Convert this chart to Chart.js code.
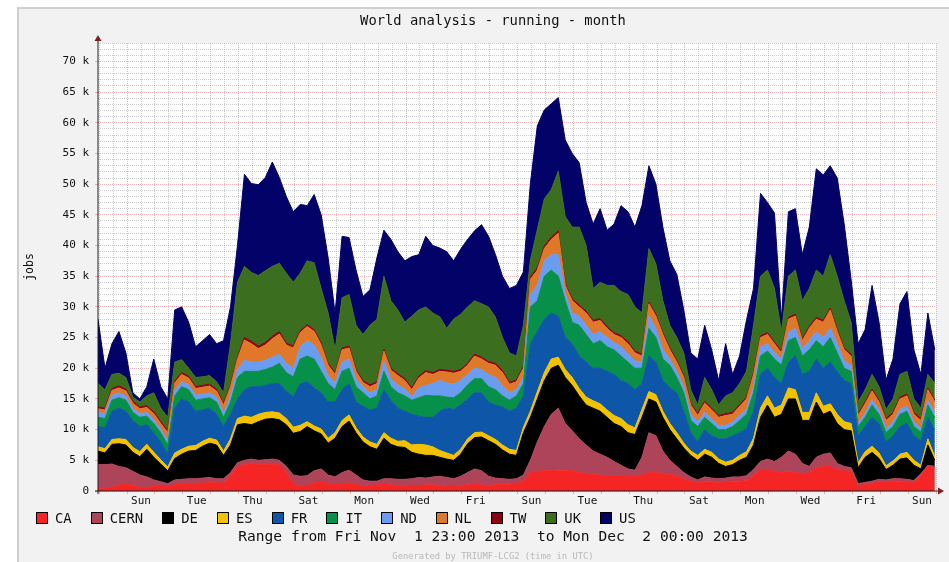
<!DOCTYPE html>
<html>
<head>
<meta charset="utf-8">
<script src="https://cdn.jsdelivr.net/npm/chart.js@4.4.0/dist/chart.umd.min.js"></script>
<style>
  body { margin: 0; background: #ffffff; overflow: hidden; font-family: "DejaVu Sans Mono", monospace; color: #111; }
  #panel { position: absolute; left: 17px; top: 7px; width: 940px; height: 570px; background: #f2f2f2;
           border-left: 2px solid #cfcfcf; border-top: 2px solid #cfcfcf; }
  #chartWorld { position: absolute; left: 0; top: 0; }
  .line { position: absolute; left: 193px; width: 600px; text-align: center; white-space: pre; }
  #title { top: 12px; font-size: 13.8px; line-height: 16px; }
  #range { top: 527px; font-size: 14.6px; line-height: 18px; }
  #generated { top: 551px; font-size: 8.8px; line-height: 10px; color: #b8b8b8; }
  #legend { position: absolute; left: 36px; top: 510px; height: 16px; display: flex; align-items: center;
            font-size: 13.9px; white-space: pre; }
  #legend .item { display: flex; align-items: center; margin-right: 19px; }
  #legend .box { width: 10px; height: 10px; border: 1px solid #000; }
  #legend .text { margin-left: 7px; line-height: 16px; }
</style>
</head>
<body>
<div id="panel"></div>
<canvas id="chartWorld" width="949" height="562"></canvas>
<div id="title" class="line">World analysis - running - month</div>
<div id="legend"></div>
<div id="range" class="line">Range from Fri Nov  1 23:00 2013  to Mon Dec  2 00:00 2013</div>
<div id="generated" class="line">Generated by TRIUMF-LCG2 (time in UTC)</div>

<script>
// one sample every 6 hours, starting Fri Nov 1 23:00 UTC, values in thousands of jobs
const START_MS = Date.UTC(2013, 10, 1, 23);
const SAMPLE_HOURS = 6;
const HOURS_TOTAL = 721;
const Y_MAX = 73;
const DAY_NAMES = ['Sun', 'Mon', 'Tue', 'Wed', 'Thu', 'Fri', 'Sat'];

const sites = ['CA', 'CERN', 'DE', 'ES', 'FR', 'IT', 'ND', 'NL', 'TW', 'UK', 'US'];

const CA = [
  0.4, 0.5, 0.6, 1.0, 1.2, 0.9, 0.6, 0.5, 0.8, 0.9,
  0.7, 1.0, 1.1, 1.2, 1.2, 1.3, 1.4, 1.3, 1.3, 2.5,
  4.0, 4.3, 4.5, 4.3, 4.3, 4.4, 4.2, 3.0, 1.2, 0.8,
  0.9, 1.3, 1.6, 1.2, 1.0, 1.2, 1.3, 1.1, 0.8, 0.9,
  1.0, 1.2, 1.0, 0.9, 0.8, 0.9, 0.9, 1.0, 1.0, 0.9,
  0.8, 0.8, 0.9, 1.0, 1.1, 1.0, 0.9, 1.0, 1.1, 1.0,
  1.3, 1.5, 3.0, 3.2, 3.3, 3.3, 3.4, 3.4, 3.3, 3.0,
  2.8, 2.7, 2.6, 2.5, 2.5, 2.5, 2.4, 2.3, 2.6, 3.0,
  3.0, 2.8, 2.7, 2.5, 2.0, 1.6, 1.3, 1.5, 1.5, 1.4,
  1.5, 1.6, 1.6, 1.7, 2.5, 3.5, 3.5, 3.2, 3.0, 3.2,
  3.0, 2.7, 3.0, 3.7, 4.0, 4.0, 3.5, 3.3, 3.2, 0.8,
  1.0, 1.2, 1.5, 1.5, 1.6, 1.6, 1.5, 1.3, 2.5, 4.0,
  3.8
];
const CERN = [
  3.9, 3.8, 3.8, 3.0, 2.6, 2.3, 2.0, 1.8, 1.0, 0.6,
  0.5, 0.8, 0.8, 0.8, 0.8, 0.8, 0.8, 0.7, 0.7, 0.5,
  0.6, 0.7, 0.7, 0.7, 0.8, 0.8, 0.8, 1.0, 1.4, 1.6,
  1.6, 2.0, 2.0, 1.4, 1.3, 1.8, 2.1, 1.5, 1.0, 0.7,
  0.6, 0.8, 1.0, 1.0, 1.1, 1.1, 1.3, 1.1, 1.3, 1.5,
  1.4, 1.2, 1.5, 2.0, 2.5, 2.3, 1.5, 1.1, 0.9, 0.9,
  0.7, 1.1, 2.0, 4.8, 7.2, 9.2, 10.1, 7.6, 6.5, 5.5,
  4.7, 3.8, 3.4, 3.0, 2.3, 1.7, 1.2, 1.1, 2.9, 6.5,
  6.0, 3.7, 2.3, 1.5, 1.0, 0.7, 0.5, 0.8, 0.6, 0.6,
  0.6, 0.7, 0.7, 0.8, 1.0, 1.3, 1.7, 1.6, 2.5, 3.3,
  3.0, 1.8, 1.0, 1.8, 2.0, 2.2, 1.0, 0.7, 0.6, 0.4,
  0.4, 0.4, 0.4, 0.3, 0.4, 0.4, 0.4, 0.4, 0.3, 0.2,
  0.2
];
const DE = [
  2.2, 1.9, 3.2, 3.7, 3.7, 3.1, 3.0, 4.5, 3.7, 2.9,
  2.1, 3.5, 4.1, 4.5, 4.6, 5.2, 5.6, 5.5, 3.8, 4.5,
  6.2, 6.0, 5.6, 6.3, 6.6, 6.6, 6.6, 6.8, 6.8, 7.3,
  8.0, 6.5, 5.7, 5.2, 6.3, 7.5, 8.0, 6.9, 6.2, 5.6,
  5.2, 6.6, 5.6, 5.3, 5.2, 4.3, 3.8, 3.7, 3.5, 3.1,
  3.0, 3.0, 3.6, 4.7, 5.1, 5.5, 5.8, 5.5, 4.7, 4.1,
  3.8, 6.9, 7.0, 7.0, 7.5, 7.5, 7.0, 7.5, 7.4, 7.0,
  6.5, 7.0, 7.0, 6.5, 6.2, 6.3, 5.9, 5.8, 6.5, 5.5,
  5.5, 5.5, 5.0, 4.5, 4.0, 3.5, 3.2, 3.7, 3.4, 2.5,
  1.9, 2.0, 2.7, 3.0, 4.0, 7.2, 8.8, 7.2, 7.0, 8.5,
  9.0, 7.0, 7.5, 9.0, 6.5, 6.8, 6.5, 6.0, 6.0, 2.6,
  4.1, 4.7, 3.4, 1.7, 2.2, 3.2, 3.5, 2.5, 0.8, 3.3,
  1.0
];
const ES = [
  0.7, 0.7, 0.8, 0.8, 0.9, 0.8, 0.8, 0.8, 0.8, 0.7,
  0.6, 0.9, 0.8, 0.8, 0.8, 0.8, 0.8, 0.8, 0.7, 1.0,
  1.0, 1.2, 1.2, 1.2, 1.1, 1.1, 1.1, 1.0, 1.0, 1.0,
  0.8, 0.8, 0.8, 0.8, 0.9, 1.0, 1.0, 0.8, 0.8, 0.8,
  0.8, 0.9, 1.0, 0.9, 1.1, 1.2, 1.6, 1.7, 1.4, 1.1,
  1.0, 0.8, 0.8, 0.8, 0.8, 0.8, 0.8, 0.8, 0.8, 0.8,
  0.8, 0.9, 1.0, 1.2, 1.3, 1.5, 1.3, 1.3, 1.3, 1.2,
  1.3, 1.2, 1.2, 1.2, 1.3, 1.3, 1.3, 1.1, 1.3, 1.2,
  1.2, 1.0, 1.0, 1.0, 0.8, 0.7, 0.8, 0.8, 0.8, 0.7,
  0.7, 0.7, 0.8, 0.9, 1.1, 1.5, 1.5, 1.5, 1.5, 1.8,
  1.5, 1.3, 1.3, 1.5, 1.3, 1.2, 1.5, 1.3, 1.2, 0.8,
  0.9, 1.0, 0.9, 0.6, 0.7, 0.8, 0.9, 0.8, 0.6, 1.0,
  0.6
];
const FR = [
  3.3, 3.4, 4.6, 5.0, 4.6, 4.4, 4.1, 3.2, 3.2, 2.9,
  2.1, 7.3, 8.2, 7.2, 5.6, 5.1, 4.9, 4.2, 4.0, 4.0,
  3.2, 4.3, 5.0, 4.5, 4.4, 4.6, 4.8, 4.5, 4.9, 6.8,
  6.5, 6.2, 5.9, 5.9, 5.0, 5.0, 5.1, 4.2, 5.0, 5.2,
  5.9, 7.0, 6.2, 5.4, 4.8, 5.0, 4.6, 4.5, 4.8, 6.4,
  7.3, 7.5, 7.2, 6.5, 6.5, 6.4, 5.5, 5.6, 6.2, 6.2,
  6.9, 5.1, 11.0, 9.8, 8.7, 7.5, 6.7, 5.2, 5.5, 5.3,
  5.7, 5.3, 5.8, 6.3, 6.7, 6.2, 6.7, 6.2, 4.2, 5.8,
  5.3, 5.0, 5.8, 6.5, 5.2, 3.0, 2.2, 3.2, 2.7, 3.3,
  3.8, 4.0, 3.7, 3.8, 4.4, 5.5, 4.5, 5.0, 3.5, 4.2,
  5.5, 6.2, 6.7, 5.5, 6.2, 6.8, 7.0, 6.7, 6.5, 4.4,
  4.1, 4.7, 4.8, 3.9, 4.1, 4.5, 4.7, 4.0, 4.0, 3.5,
  4.4
];
const IT = [
  1.5, 1.5, 1.8, 1.7, 1.8, 1.3, 1.5, 1.4, 1.5, 1.5,
  1.5, 2.0, 2.0, 2.0, 1.8, 1.8, 1.7, 2.0, 1.5, 2.0,
  3.5, 3.0, 2.5, 2.5, 2.6, 2.7, 3.3, 3.0, 3.3, 4.0,
  4.2, 4.7, 3.5, 3.0, 2.0, 3.0, 2.5, 2.5, 2.2, 1.8,
  2.0, 3.0, 2.2, 2.5, 2.5, 2.3, 3.0, 3.6, 3.5, 2.5,
  1.8, 1.9, 2.0, 2.3, 2.3, 2.3, 2.5, 2.5, 1.8, 1.8,
  2.0, 2.0, 6.0, 5.0, 7.0, 7.0, 6.5, 6.0, 3.5, 5.0,
  4.5, 4.0, 4.5, 4.0, 4.0, 4.0, 3.5, 3.5, 2.5, 4.5,
  4.0, 3.5, 3.7, 2.5, 3.0, 2.0, 2.5, 2.0, 2.0, 1.5,
  1.5, 1.5, 2.0, 2.3, 3.0, 3.0, 2.8, 3.0, 3.0, 3.5,
  3.0, 3.0, 3.5, 3.0, 3.5, 4.0, 3.0, 2.0, 2.0, 1.5,
  1.5, 2.0, 1.5, 1.5, 1.5, 2.0, 2.0, 1.5, 1.4, 2.0,
  2.0
];
const ND = [
  0.8, 0.8, 0.8, 0.8, 0.7, 0.7, 0.6, 0.6, 0.6, 0.6,
  0.7, 0.9, 0.8, 0.8, 0.8, 0.8, 0.8, 0.8, 0.8, 1.0,
  1.3, 1.8, 1.5, 1.5, 1.5, 1.6, 1.5, 1.5, 1.4, 2.0,
  2.5, 2.3, 2.2, 1.3, 1.0, 1.5, 1.5, 1.3, 1.0, 1.0,
  1.0, 1.7, 1.2, 1.3, 1.1, 0.6, 1.6, 1.6, 2.0, 2.5,
  2.3, 2.2, 2.0, 1.7, 1.7, 1.5, 2.0, 2.0, 1.7, 1.2,
  1.0, 1.0, 2.0, 2.5, 2.5, 2.5, 3.5, 1.2, 1.5, 1.5,
  1.5, 1.5, 1.5, 1.5, 1.2, 1.5, 1.3, 1.2, 1.0, 2.0,
  1.5, 1.5, 1.0, 1.0, 1.0, 1.0, 0.8, 0.8, 0.8, 0.7,
  0.7, 0.7, 0.8, 0.8, 1.0, 1.5, 1.2, 1.0, 1.0, 1.3,
  1.5, 1.2, 1.5, 1.5, 1.5, 1.5, 1.5, 1.2, 1.0, 0.5,
  0.7, 0.8, 0.8, 0.7, 0.7, 0.8, 0.8, 0.7, 0.6, 0.8,
  0.8
];
const NL = [
  0.6, 0.6, 0.8, 0.8, 0.8, 0.8, 0.8, 0.8, 1.0, 0.9,
  1.3, 1.2, 1.2, 1.1, 1.1, 1.1, 1.1, 1.0, 1.2, 1.5,
  1.7, 3.3, 3.0, 2.2, 2.5, 3.0, 3.3, 3.0, 3.3, 2.3,
  2.3, 2.2, 2.1, 1.7, 1.5, 2.0, 1.8, 1.2, 0.7, 1.0,
  1.0, 1.6, 1.5, 1.5, 1.4, 1.1, 1.6, 2.1, 1.5, 1.5,
  1.8, 1.8, 1.5, 1.5, 2.0, 1.7, 1.8, 2.0, 2.1, 1.4,
  1.3, 1.5, 2.5, 2.5, 2.0, 2.5, 3.5, 1.3, 2.0, 1.5,
  2.0, 2.0, 1.8, 1.5, 1.3, 1.5, 1.7, 1.3, 1.0, 2.0,
  2.0, 2.5, 1.5, 1.5, 1.5, 1.5, 1.0, 1.5, 1.4, 1.3,
  1.6, 1.3, 1.5, 1.7, 2.0, 1.5, 1.5, 1.5, 1.0, 2.2,
  2.0, 1.3, 2.0, 2.0, 2.5, 3.0, 2.0, 1.8, 1.5, 1.3,
  1.5, 1.5, 1.2, 1.3, 1.3, 1.7, 1.7, 1.3, 1.3, 1.7,
  1.7
];
const TW = [
  0.3, 0.3, 0.3, 0.3, 0.3, 0.3, 0.3, 0.3, 0.3, 0.3,
  0.3, 0.3, 0.3, 0.3, 0.3, 0.3, 0.3, 0.3, 0.3, 0.3,
  0.3, 0.4, 0.4, 0.4, 0.4, 0.4, 0.4, 0.3, 0.3, 0.3,
  0.3, 0.3, 0.3, 0.3, 0.3, 0.3, 0.3, 0.3, 0.3, 0.3,
  0.3, 0.3, 0.3, 0.3, 0.3, 0.3, 0.3, 0.3, 0.3, 0.3,
  0.3, 0.3, 0.3, 0.3, 0.3, 0.3, 0.3, 0.3, 0.3, 0.3,
  0.3, 0.3, 0.4, 0.4, 0.4, 0.4, 0.4, 0.3, 0.3, 0.3,
  0.3, 0.3, 0.3, 0.3, 0.3, 0.3, 0.3, 0.3, 0.3, 0.3,
  0.3, 0.3, 0.3, 0.3, 0.3, 0.3, 0.3, 0.3, 0.3, 0.3,
  0.3, 0.3, 0.3, 0.3, 0.3, 0.3, 0.3, 0.3, 0.3, 0.3,
  0.3, 0.3, 0.3, 0.3, 0.3, 0.3, 0.3, 0.3, 0.3, 0.3,
  0.3, 0.3, 0.3, 0.3, 0.3, 0.3, 0.3, 0.3, 0.3, 0.3,
  0.3
];
const UK = [
  3.8, 3.0, 2.3, 2.1, 1.9, 0.7, 0.8, 1.6, 3.1, 2.2,
  2.2, 3.1, 2.1, 1.3, 1.5, 1.4, 1.4, 1.2, 1.7, 6.7,
  12.2, 11.6, 11.2, 11.5, 11.7, 11.4, 11.1, 11.4, 10.4, 9.4,
  10.4, 10.9, 8.9, 8.2, 3.7, 8.2, 8.4, 7.2, 7.5, 9.7,
  10.2, 11.9, 11.0, 10.4, 9.2, 11.7, 10.8, 10.4, 9.7, 8.6,
  6.8, 8.5, 9.0, 9.2, 8.7, 8.7, 8.9, 7.5, 5.4, 4.8,
  3.9, 6.7, 2.7, 6.2, 7.7, 7.7, 9.7, 10.9, 11.7, 12.7,
  10.7, 5.2, 5.9, 6.7, 7.7, 7.2, 7.7, 7.2, 6.7, 8.7,
  8.2, 5.2, 3.7, 3.7, 3.7, 2.2, 1.4, 3.9, 3.0, 1.7,
  2.9, 3.2, 3.4, 4.2, 7.7, 9.7, 10.2, 8.7, 3.2, 6.7,
  7.2, 6.2, 6.2, 7.7, 7.2, 8.7, 8.7, 7.7, 5.2, 1.9,
  2.0, 2.4, 2.2, 1.5, 2.2, 3.7, 3.7, 2.2, 1.7, 2.2,
  2.7
];
const US = [
  10.5, 3.5, 5.0, 6.8, 4.0, 0.7, 0.5, 1.5, 5.5, 3.5,
  3.0, 8.5, 8.6, 7.5, 5.0, 5.9, 6.7, 6.2, 8.5, 6.0,
  6.0, 15.0, 14.5, 14.8, 15.2, 17.0, 14.0, 12.5, 11.5, 11.2,
  9.0, 11.1, 12.0, 9.0, 6.0, 10.0, 9.3, 9.0, 6.2, 5.8,
  10.0, 7.5, 10.0, 9.5, 10.0, 9.7, 9.0, 11.5, 11.0, 11.2,
  12.5, 9.5, 10.6, 11.0, 11.4, 12.9, 11.5, 10.2, 10.0, 10.5,
  11.5, 8.7, 12.5, 16.9, 14.5, 14.0, 12.0, 12.5, 12.0, 10.5,
  7.0, 10.5, 12.0, 9.0, 10.0, 14.0, 13.5, 13.0, 17.5, 13.5,
  13.0, 12.0, 10.5, 10.3, 7.0, 6.0, 7.5, 8.5, 6.5, 4.0,
  8.5, 3.0, 4.5, 8.4, 6.0, 13.5, 11.0, 12.3, 2.0, 10.5,
  10.0, 7.5, 10.0, 16.5, 16.5, 14.5, 16.0, 12.5, 6.9, 9.5,
  9.8, 14.5, 10.5, 4.8, 6.5, 11.5, 13.0, 8.0, 5.5, 10.0,
  5.5
];

const siteValues = [CA, CERN, DE, ES, FR, IT, ND, NL, TW, UK, US];

const SITE_COLORS = [
  '#f52525', '#ae4459', '#000000', '#f2c200', '#0d56a8', '#06904a',
  '#6a9cf0', '#e0782a', '#8e0010', '#3c6e20', '#020268'
];

// rrdtool look, a bit lighter than the raw defaults
const GRID_MINOR = 'rgba(143,143,143,0.45)';
const GRID_MAJOR = 'rgba(222,79,79,0.42)';
const FONT_MONO = '"DejaVu Sans Mono", monospace';

function toPoints(values) {
  return values.map((v, i) => ({ x: i * SAMPLE_HOURS, y: v }));
}

function dayName(hour) {
  return DAY_NAMES[new Date(START_MS + hour * 3600000).getUTCDay()];
}

// ************************************
// PLOT BACKGROUND + AXES WITH ARROWS
// ************************************

const rrdFrame = {
  id: 'rrdFrame',
  beforeDraw(chart) {
    const { ctx, chartArea: a } = chart;
    ctx.save();
    ctx.fillStyle = '#ffffff';
    ctx.fillRect(a.left, a.top, a.right - a.left, a.bottom - a.top);
    ctx.restore();
  },
  afterDraw(chart) {
    const { ctx, chartArea: a } = chart;
    ctx.save();
    ctx.strokeStyle = '#1f1f1f';
    ctx.lineWidth = 1;
    ctx.beginPath();
    ctx.moveTo(a.left, a.bottom + 3);
    ctx.lineTo(a.left, a.top - 4);
    ctx.moveTo(a.left - 3, a.bottom);
    ctx.lineTo(a.right + 3, a.bottom);
    ctx.stroke();
    ctx.fillStyle = '#801f1f';
    ctx.beginPath();
    ctx.moveTo(a.left - 3.5, a.top - 2);
    ctx.lineTo(a.left + 3.5, a.top - 2);
    ctx.lineTo(a.left, a.top - 8);
    ctx.closePath();
    ctx.fill();
    ctx.beginPath();
    ctx.moveTo(a.right + 2, a.bottom - 3.5);
    ctx.lineTo(a.right + 2, a.bottom + 3.5);
    ctx.lineTo(a.right + 8, a.bottom);
    ctx.closePath();
    ctx.fill();
    ctx.restore();
  }
};

// ************************************
// DATASETS
// ************************************

const dataWorld = {
  datasets: sites.map((site, i) => ({
    label: site,
    data: toPoints(siteValues[i]),
    backgroundColor: SITE_COLORS[i],
    borderColor: SITE_COLORS[i],
    borderWidth: 1,
    pointRadius: 0,
    tension: 0,
    fill: i === 0 ? 'origin' : '-1'
  }))
};

// ************************************
// CHART
// ************************************

const chartWorld = new Chart(document.getElementById('chartWorld'), {
  type: 'line',
  data: dataWorld,
  plugins: [rrdFrame],
  options: {
    responsive: false,
    animation: false,
    events: [],
    layout: { padding: { left: 18, right: 13, top: 43, bottom: 51 } },
    plugins: {
      legend: { display: false },
      title: { display: false },
      tooltip: { enabled: false }
    },
    scales: {
      x: {
        type: 'linear',
        min: 0,
        max: HOURS_TOTAL,
        afterFit: (scale) => { scale.height = 20; },
        afterBuildTicks: (scale) => {
          const ticks = [];
          for (let h = 1; h <= HOURS_TOTAL; h += 12) ticks.push({ value: h });
          scale.ticks = ticks;
        },
        ticks: {
          autoSkip: false,
          maxRotation: 0,
          minRotation: 0,
          padding: 1,
          color: '#111',
          font: { family: FONT_MONO, size: 11 },
          callback: (value) => ((value - 37) % 48 === 0 ? dayName(value) : '')
        },
        grid: {
          color: (ctx) => (ctx.tick && (ctx.tick.value - 1) % 24 === 0 ? GRID_MAJOR : GRID_MINOR),
          tickColor: (ctx) => (ctx.tick && (ctx.tick.value - 1) % 24 === 0 ? GRID_MAJOR : 'rgba(0,0,0,0)'),
          tickLength: 3
        },
        border: { display: false, dash: [1, 1] }
      },
      y: {
        stacked: true,
        min: 0,
        max: Y_MAX,
        afterFit: (scale) => { scale.width = 80; },
        afterBuildTicks: (scale) => {
          const ticks = [];
          for (let v = 0; v <= Y_MAX; v++) ticks.push({ value: v });
          scale.ticks = ticks;
        },
        ticks: {
          autoSkip: false,
          padding: 6,
          color: '#111',
          font: { family: FONT_MONO, size: 11 },
          callback: (v) => (v % 5 === 0 ? (v === 0 ? '0' : v + ' k') : '')
        },
        grid: {
          color: (ctx) => (ctx.tick && ctx.tick.value % 5 === 0 ? GRID_MAJOR : GRID_MINOR),
          tickColor: (ctx) => (ctx.tick && ctx.tick.value % 5 === 0 ? GRID_MAJOR : 'rgba(0,0,0,0)'),
          tickLength: 3
        },
        border: { display: false, dash: [1, 1] },
        title: {
          display: true,
          text: 'jobs',
          color: '#111',
          font: { family: FONT_MONO, size: 11.5 },
          padding: { top: 5, bottom: 0 }
        }
      }
    }
  }
});

// ************************************
// LEGEND (html, from the datasets)
// ************************************

const legendEl = document.getElementById('legend');
chartWorld.data.datasets.forEach((ds) => {
  const item = document.createElement('span');
  item.className = 'item';
  const box = document.createElement('span');
  box.className = 'box';
  box.style.background = ds.backgroundColor;
  const text = document.createElement('span');
  text.className = 'text';
  text.textContent = ds.label;
  item.appendChild(box);
  item.appendChild(text);
  legendEl.appendChild(item);
});
</script>
</body>
</html>
